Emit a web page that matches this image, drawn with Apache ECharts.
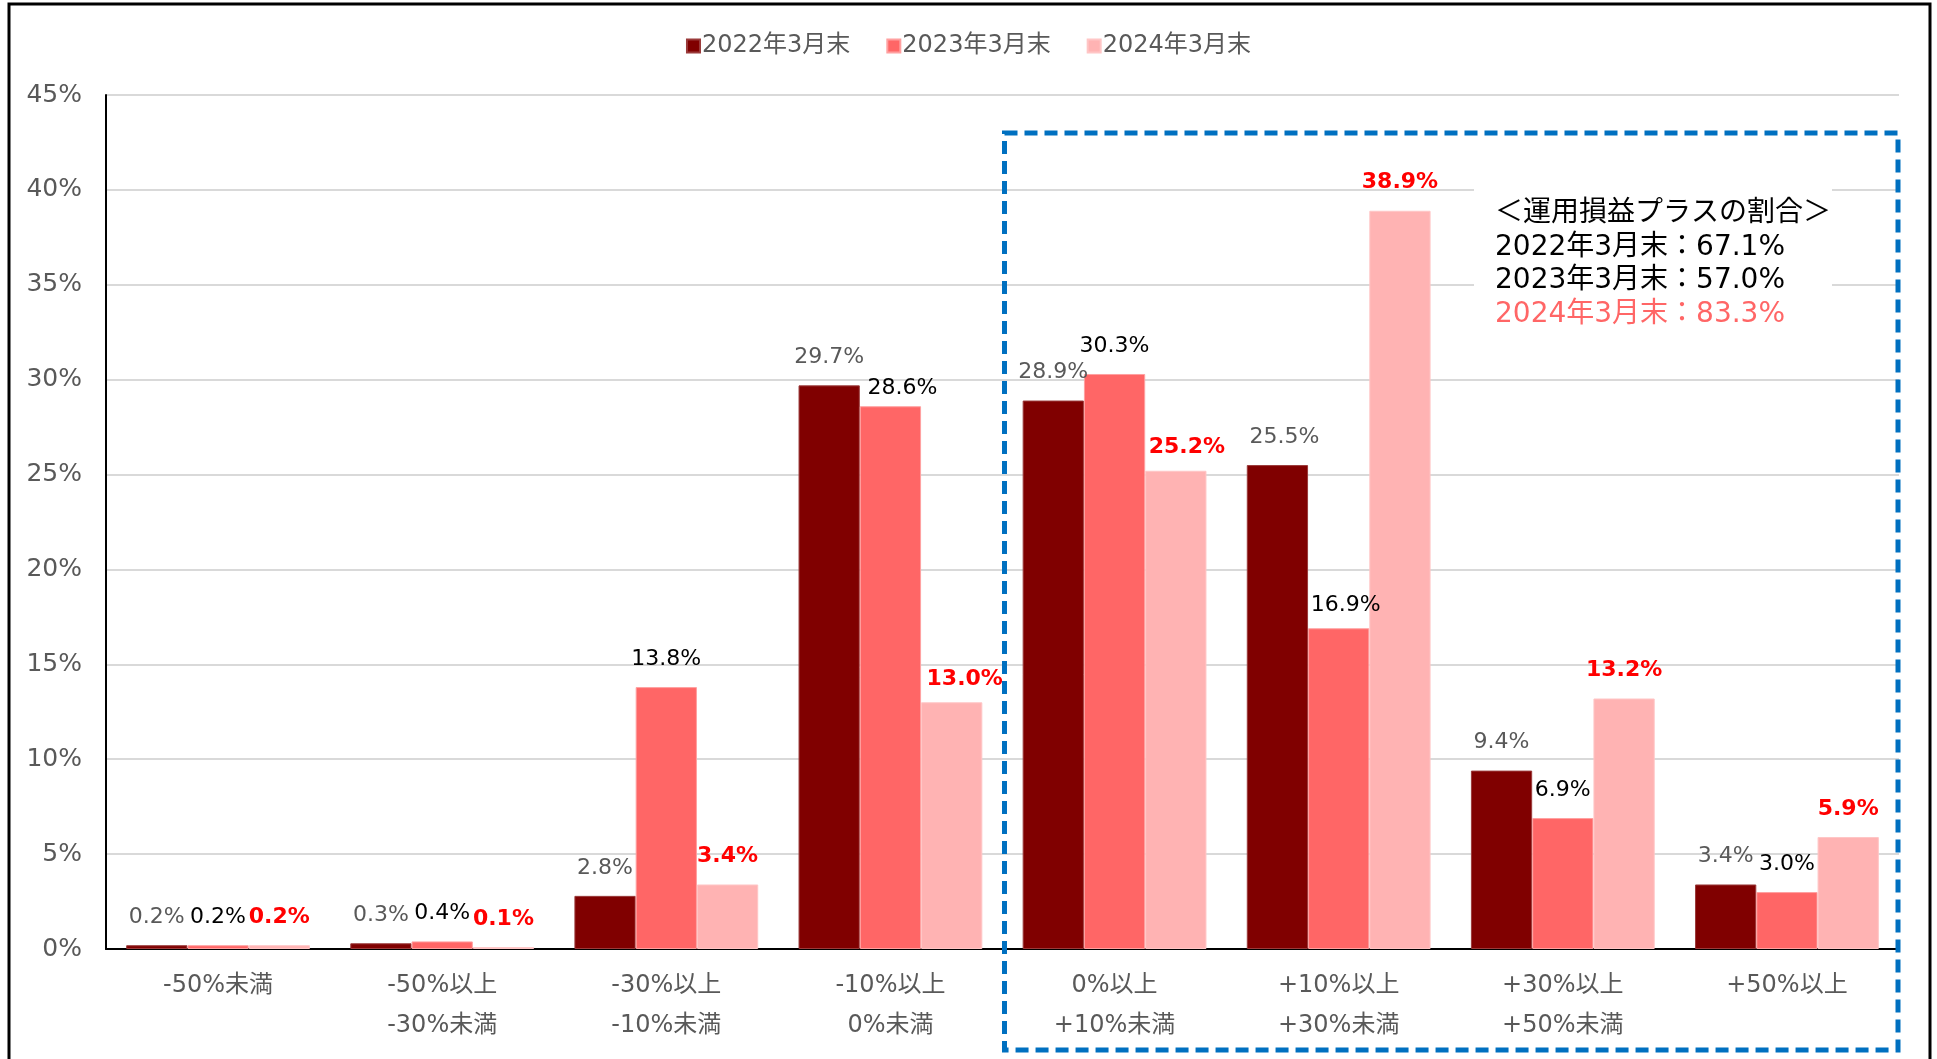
<!DOCTYPE html>
<html>
<head>
<meta charset="utf-8">
<script src="https://cdn.jsdelivr.net/npm/echarts@6/dist/echarts.min.js"></script>
<style>
html,body{margin:0;padding:0;background:#fff;}
#chart{width:1937px;height:1059px;}
</style>
</head>
<body>
<div id="chart"></div>
<script>
// ---- data ----
const categories = ['-50%未満', '-50%以上\n-30%未満', '-30%以上\n-10%未満', '-10%以上\n0%未満',
  '0%以上\n+10%未満', '+10%以上\n+30%未満', '+30%以上\n+50%未満', '+50%以上'];
const seriesNames = ['2022年3月末', '2023年3月末', '2024年3月末'];
const values2022 = [0.2, 0.3, 2.8, 29.7, 28.9, 25.5, 9.4, 3.4];
const values2023 = [0.2, 0.4, 13.8, 28.6, 30.3, 16.9, 6.9, 3.0];
const values2024 = [0.2, 0.1, 3.4, 13.0, 25.2, 38.9, 13.2, 5.9];
const yTicks = [0, 5, 10, 15, 20, 25, 30, 35, 40, 45];
const noteTitle = '＜運用損益プラスの割合＞';
const noteLines = ['2022年3月末：67.1%', '2023年3月末：57.0%', '2024年3月末：83.3%'];

// ---- styling ----
const barColors = ['#800000', '#FF6666', '#FFB3B3'];
const barBorders = ['#9a3a3a', '#ffa0a0', '#ffc6c6'];
const labelColors = ['#595959', '#000000', '#FF0000'];
const labelWeights = ['normal', 'normal', 'bold'];
const latin = '"DejaVu Sans", "Noto Sans CJK JP", sans-serif';
const cjk = '"DejaVu Sans", "Noto Sans CJK JP", sans-serif';
// small label nudges seen in the reference (series index -> data index -> [dx, dy])
const labelNudge = {0: {5: [7, 0]}, 1: {3: [12, 10], 5: [7, 5]}, 2: {3: [13, 5], 4: [11, 5]}};

const allValues = [values2022, values2023, values2024];

const chart = echarts.init(document.getElementById('chart'), null, {renderer: 'canvas'});

const series = allValues.map((vals, si) => ({
  name: seriesNames[si],
  type: 'bar',
  barGap: '0%',
  barCategoryGap: '18%',
  itemStyle: {color: barColors[si], borderColor: barBorders[si], borderWidth: 1},
  label: {
    show: true,
    position: 'top',
    distance: 17,
    formatter: p => p.value.toFixed(1) + '%',
    color: labelColors[si],
    fontWeight: labelWeights[si],
    fontSize: 22,
    fontFamily: latin
  },
  data: vals.map((v, i) => {
    const n = labelNudge[si] && labelNudge[si][i];
    return n ? {value: v, label: {offset: n}} : v;
  })
}));

const option = {
  backgroundColor: '#ffffff',
  animation: false,
  legend: {
    data: seriesNames,
    top: 29,
    left: 'center',
    itemWidth: 13,
    itemHeight: 13,
    itemGap: 36,
    icon: 'rect',
    textStyle: {fontSize: 24, color: '#595959', fontFamily: cjk, padding: [0, 0, 0, -3]}
  },
  grid: {left: 106, right: 38, top: 95, bottom: 110},
  xAxis: {
    type: 'category',
    data: categories,
    axisLine: {show: true, lineStyle: {color: '#000', width: 2}},
    axisTick: {show: false},
    axisLabel: {interval: 0, fontSize: 24, color: '#595959', fontFamily: cjk, lineHeight: 40, margin: 17}
  },
  yAxis: {
    type: 'value',
    min: yTicks[0],
    max: yTicks[yTicks.length - 1],
    interval: yTicks[1] - yTicks[0],
    axisLine: {show: true, lineStyle: {color: '#000', width: 2}},
    axisTick: {show: false},
    splitLine: {show: true, lineStyle: {color: '#D9D9D9', width: 2}},
    axisLabel: {formatter: '{value}%', fontSize: 25, color: '#595959', fontFamily: latin, margin: 24}
  },
  series: series
};
chart.setOption(option);

// annotation graphics anchored to the axes
const band = chart.convertToPixel({xAxisIndex: 0}, categories[5]) - chart.convertToPixel({xAxisIndex: 0}, categories[4]);
const boxLeft = chart.convertToPixel({xAxisIndex: 0}, categories[4]) - band / 2 + 2;
const boxTop = chart.convertToPixel({yAxisIndex: 0}, 43);
const boxRight = chart.convertToPixel({xAxisIndex: 0}, categories[7]) + band / 2 - 1;
const boxBottom = 1050;

chart.setOption({
  graphic: [
    {
      type: 'rect', silent: true,
      shape: {x: 9, y: 4, width: 1921, height: 1070},
      style: {fill: 'none', stroke: '#000', lineWidth: 3}
    },
    {
      type: 'rect', silent: true, z: 10,
      shape: {x: boxLeft, y: boxTop, width: boxRight - boxLeft, height: boxBottom - boxTop},
      style: {fill: 'none', stroke: '#0070C0', lineWidth: 5, lineDash: [13, 7]}
    },
    {
      type: 'rect', silent: true, z: 5,
      shape: {x: 1474, y: 180, width: 358, height: 150},
      style: {fill: '#ffffff'}
    },
    {
      type: 'text', silent: true, z: 6,
      left: 1495, top: 197,
      style: {
        text: [noteTitle, noteLines[0], noteLines[1], '{r|' + noteLines[2] + '}'].join('\n'),
        fontSize: 28, lineHeight: 33.5, fill: '#000', fontFamily: cjk,
        rich: {r: {fontSize: 28, lineHeight: 33.5, fill: '#FF6666', fontFamily: cjk}}
      }
    }
  ]
});
</script>
</body>
</html>
